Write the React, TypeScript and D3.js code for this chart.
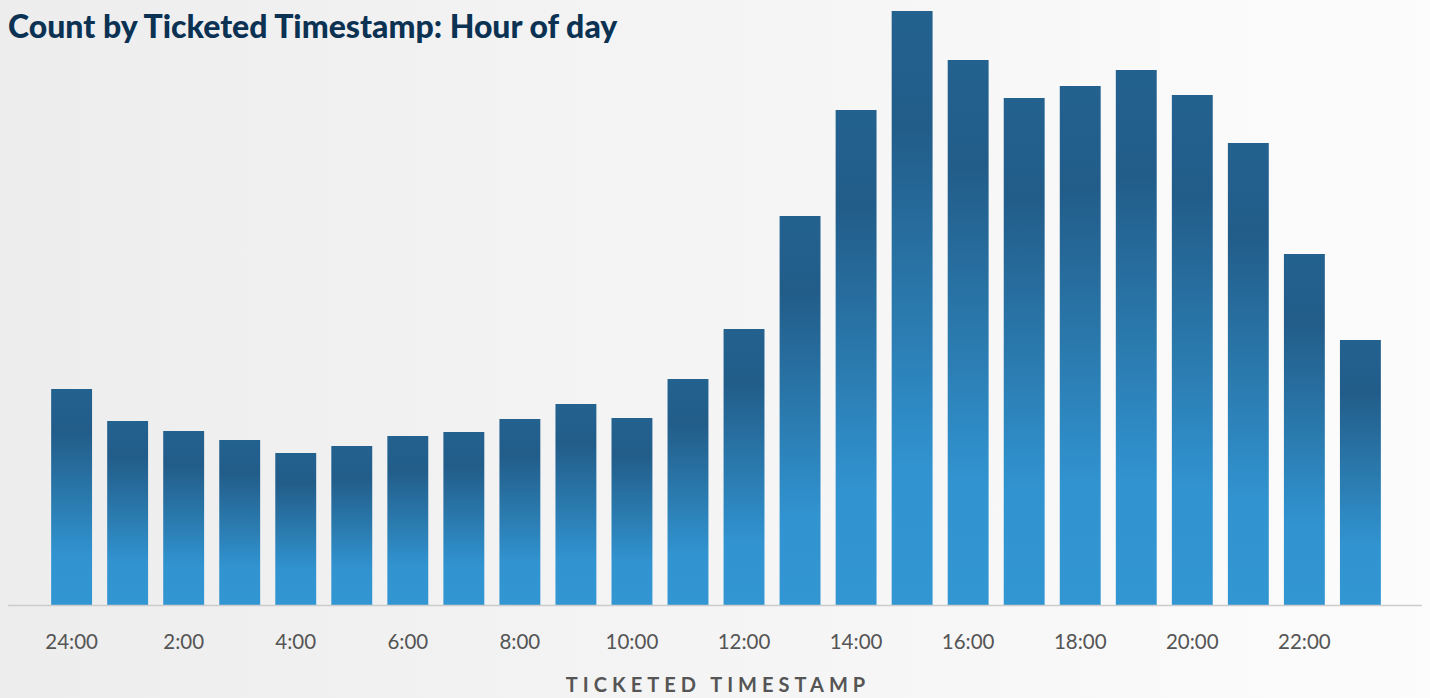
import React, { useEffect, useRef } from 'react';
import * as d3 from 'd3';

const hours = [
  '24:00', '1:00', '2:00', '3:00', '4:00', '5:00', '6:00', '7:00',
  '8:00', '9:00', '10:00', '11:00', '12:00', '13:00', '14:00', '15:00',
  '16:00', '17:00', '18:00', '19:00', '20:00', '21:00', '22:00', '23:00',
];
const counts = [
  2160, 1840, 1740, 1650, 1520, 1590, 1690, 1730,
  1860, 2010, 1870, 2260, 2760, 3890, 4950, 5940,
  5450, 5070, 5190, 5350, 5100, 4620, 3510, 2650,
];
const tickLabels = ['24:00', '2:00', '4:00', '6:00', '8:00', '10:00', '12:00', '14:00', '16:00', '18:00', '20:00', '22:00'];

const title = 'Count by Ticketed Timestamp: Hour of day';
const axisTitle = 'TICKETED TIMESTAMP';

const W = 1430, H = 698;

const App = () => {
  const ref = useRef<SVGSVGElement>(null);

  useEffect(() => {
    const svg = d3.select(ref.current);
    svg.selectAll('*').remove();

    const defs = svg.append('defs');
    const bg = defs.append('linearGradient').attr('id', 'bg')
      .attr('x1', 0).attr('y1', 0).attr('x2', 1).attr('y2', 0);
    bg.append('stop').attr('offset', 0).attr('stop-color', '#ededed');
    bg.append('stop').attr('offset', 1).attr('stop-color', '#fcfcfc');

    const barGrad = defs.append('linearGradient').attr('id', 'barGrad')
      .attr('x1', 0).attr('y1', 0).attr('x2', 0).attr('y2', 1);
    [[0, '#23618e'], [0.2, '#225d8a'], [0.5, '#2a79ad'], [0.78, '#3194d1'], [1, '#3296d3']]
      .forEach(([o, c]) => barGrad.append('stop').attr('offset', o).attr('stop-color', c));

    svg.append('rect').attr('width', W).attr('height', H).attr('fill', 'url(#bg)');

    const x = d3.scaleBand<string>()
      .domain(hours)
      .range([8, 1424])
      .paddingInner(0.27)
      .paddingOuter(0.77);

    const y = d3.scaleLinear()
      .domain([0, d3.max(counts) as number])
      .range([605, 11]);

    svg.append('g')
      .selectAll('rect')
      .data(counts)
      .enter()
      .append('rect')
      .attr('x', (_, i) => x(hours[i]) as number)
      .attr('y', d => y(d))
      .attr('width', x.bandwidth())
      .attr('height', d => y(0) - y(d))
      .attr('fill', 'url(#barGrad)');

    svg.append('line')
      .attr('x1', 8).attr('x2', 1422)
      .attr('y1', y(0) + 0.5).attr('y2', y(0) + 0.5)
      .attr('stroke', '#cccccc')
      .attr('stroke-width', 1.5);

    svg.append('g')
      .selectAll('text')
      .data(tickLabels)
      .enter()
      .append('text')
      .attr('x', d => (x(d) as number) + x.bandwidth() / 2)
      .attr('y', 649)
      .attr('text-anchor', 'middle')
      .style('font-family', 'Lato, sans-serif')
      .style('font-size', '20.5px')
      .style('fill', '#555555')
      .text(d => d);

    svg.append('text')
      .attr('x', 718)
      .attr('y', 692)
      .attr('text-anchor', 'middle')
      .style('font-family', 'Lato, sans-serif')
      .style('font-size', '20px')
      .style('font-weight', 700)
      .style('letter-spacing', '5px')
      .style('fill', '#555555')
      .text(axisTitle);

    svg.append('text')
      .attr('x', 8)
      .attr('y', 38)
      .style('font-family', 'Lato, sans-serif')
      .style('font-size', '32px')
      .style('font-weight', 900)
      .style('fill', '#0b3253')
      .text(title);
  }, []);

  return (
    <svg
      ref={ref}
      width={W}
      height={H}
      style={{ position: 'absolute', left: 0, top: 0, display: 'block' }}
    />
  );
};

export default App;
